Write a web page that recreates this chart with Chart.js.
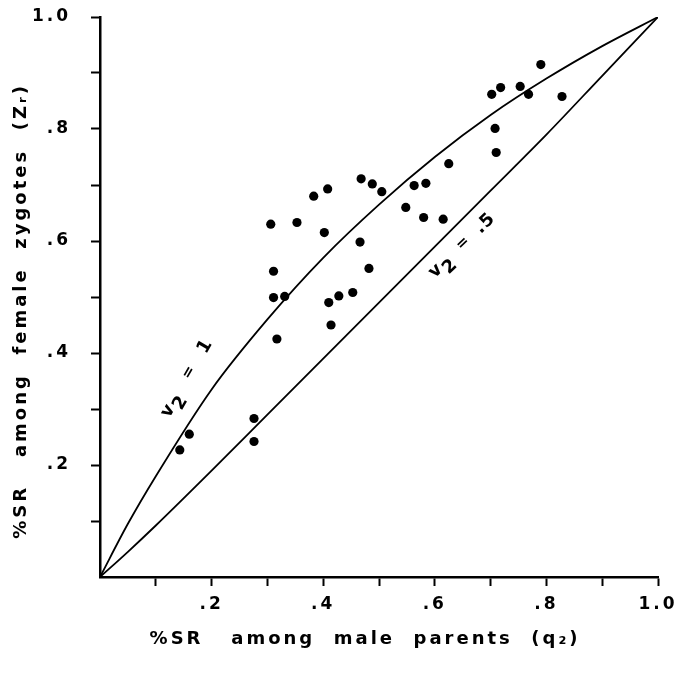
<!DOCTYPE html>
<html>
<head>
<meta charset="utf-8">
<script src="https://cdn.jsdelivr.net/npm/chart.js@4.4.1/dist/chart.umd.min.js"></script>
<style>
  html, body { margin: 0; padding: 0; background: #fff; }
</style>
</head>
<body>
<canvas id="srChart" width="674" height="677"></canvas>
<script>
// observed points: % SR among male parents (x) vs % SR among female zygotes (y)
const parentsSR = [0.143, 0.160, 0.276, 0.276, 0.306, 0.311, 0.311, 0.317, 0.331, 0.353,
                   0.383, 0.402, 0.408, 0.410, 0.414, 0.428, 0.453, 0.466, 0.468, 0.482,
                   0.488, 0.505, 0.548, 0.563, 0.580, 0.584, 0.615, 0.625, 0.702, 0.708,
                   0.710, 0.718, 0.753, 0.768, 0.790, 0.828];
const zygotesSR = [0.227, 0.255, 0.283, 0.242, 0.630, 0.546, 0.499, 0.425, 0.501, 0.633,
                   0.680, 0.615, 0.693, 0.490, 0.450, 0.502, 0.508, 0.598, 0.711, 0.551,
                   0.702, 0.688, 0.660, 0.699, 0.642, 0.703, 0.639, 0.738, 0.862, 0.801,
                   0.758, 0.874, 0.876, 0.862, 0.915, 0.858];

// the two theoretical curves
const curveX = [0, 0.05, 0.1, 0.2, 0.3, 0.4, 0.5, 0.6, 0.7, 0.8, 0.9, 1.0];
const curveV1 = [0, 0.095, 0.18, 0.335, 0.46, 0.57, 0.665, 0.75, 0.825, 0.89, 0.948, 1.0];
const curveV05 = [0, 0.045, 0.092, 0.19, 0.29, 0.39, 0.49, 0.59, 0.69, 0.79, 0.895, 1.0];

const tickValues = [0.1, 0.2, 0.3, 0.4, 0.5, 0.6, 0.7, 0.8, 0.9, 1.0];
const labeledTicks = [0.2, 0.4, 0.6, 0.8, 1.0];

const FONT = '"DejaVu Sans", "Open Sans", sans-serif';

function tickLabel(value) {
    const v = Math.round(value * 10) / 10;
    if (!labeledTicks.includes(v)) return '';
    return v === 1 ? '1.0' : '.' + Math.round(v * 10);
}

function toPoints(xs, ys) {
    return xs.map(function (x, i) { return { x: x, y: ys[i] }; });
}

// letter spacing for the axis text, then the curve labels on top
const textPlugin = {
    id: 'textPlugin',
    beforeDraw: function (chart) {
        chart.ctx.letterSpacing = '3px';
    },
    beforeDatasetsDraw: function (chart) {
        chart.ctx.letterSpacing = '0px';
    },
    afterDatasetsDraw: function (chart) {
        const ctx = chart.ctx;
        const xs = chart.scales.x;
        const ys = chart.scales.y;

        function curveLabel(dx, dy, angle, value, gap) {
            ctx.save();
            ctx.translate(xs.getPixelForValue(dx), ys.getPixelForValue(dy));
            ctx.rotate(-angle * Math.PI / 180);
            ctx.fillStyle = '#000';
            ctx.textBaseline = 'alphabetic';
            ctx.font = 'bold 18px ' + FONT;
            ctx.fillText('v', 0, 0);
            let w = ctx.measureText('v').width + 1;
            ctx.fillText('2', w, 7);
            w += ctx.measureText('2').width + gap;
            ctx.font = 'bold 15px ' + FONT;
            ctx.fillText('=', w, -2);
            w += ctx.measureText('=').width + gap;
            ctx.font = 'bold 18px ' + FONT;
            ctx.letterSpacing = '1px';
            ctx.fillText(value, w, 0);
            ctx.restore();
        }

        curveLabel(0.124, 0.283, 60, '1', 18);
        curveLabel(0.600, 0.533, 44, '.5', 13);
    }
};

const axisBase = {
    type: 'linear',
    min: 0,
    max: 1,
    afterBuildTicks: function (axis) {
        axis.ticks = tickValues.map(function (v) { return { value: v }; });
    },
    grid: {
        display: true,
        drawOnChartArea: false,
        drawTicks: true,
        tickLength: 9,
        tickWidth: 2,
        tickColor: '#000'
    },
    border: { display: true, color: '#000', width: 2.5 }
};

new Chart(document.getElementById('srChart').getContext('2d'), {
    type: 'scatter',
    data: {
        datasets: [{
            label: 'v2 = 1',
            data: toPoints(curveX, curveV1),
            showLine: true,
            borderColor: '#000',
            borderWidth: 1.8,
            pointRadius: 0,
            cubicInterpolationMode: 'monotone'
        }, {
            label: 'v2 = .5',
            data: toPoints(curveX, curveV05),
            showLine: true,
            borderColor: '#000',
            borderWidth: 1.8,
            pointRadius: 0,
            cubicInterpolationMode: 'monotone'
        }, {
            label: 'observed',
            data: toPoints(parentsSR, zygotesSR),
            backgroundColor: '#000',
            borderWidth: 0,
            pointRadius: 4.6
        }]
    },
    options: {
        responsive: false,
        animation: false,
        layout: { padding: { top: 17, right: 16, left: 0, bottom: 0 } },
        plugins: {
            legend: { display: false },
            tooltip: { enabled: false }
        },
        scales: {
            x: Object.assign({}, axisBase, {
                afterFit: function (scale) {
                    scale.height = 100;
                    scale.paddingLeft = 0;
                    scale.paddingRight = 0;
                },
                ticks: {
                    color: '#000',
                    padding: 8,
                    maxRotation: 0,
                    autoSkip: false,
                    font: { family: FONT, size: 17, weight: 'bold' },
                    callback: tickLabel
                },
                title: {
                    display: true,
                    text: '%SR   among  male  parents  (q\u2082)   ',
                    color: '#000',
                    padding: { top: 0, bottom: 27 },
                    font: { family: FONT, size: 18, weight: 'bold' }
                }
            }),
            y: Object.assign({}, axisBase, {
                afterFit: function (scale) {
                    scale.width = 100;
                    scale.paddingTop = 0;
                    scale.paddingBottom = 0;
                },
                ticks: {
                    color: '#000',
                    padding: 20,
                    autoSkip: false,
                    font: { family: FONT, size: 17, weight: 'bold' },
                    callback: tickLabel
                },
                title: {
                    display: true,
                    text: '%SR   among  female  zygotes  (Z\u1d63)   ',
                    color: '#000',
                    padding: { top: 11, bottom: 0 },
                    font: { family: FONT, size: 18, weight: 'bold' }
                }
            })
        }
    },
    plugins: [textPlugin]
});
</script>
</body>
</html>
